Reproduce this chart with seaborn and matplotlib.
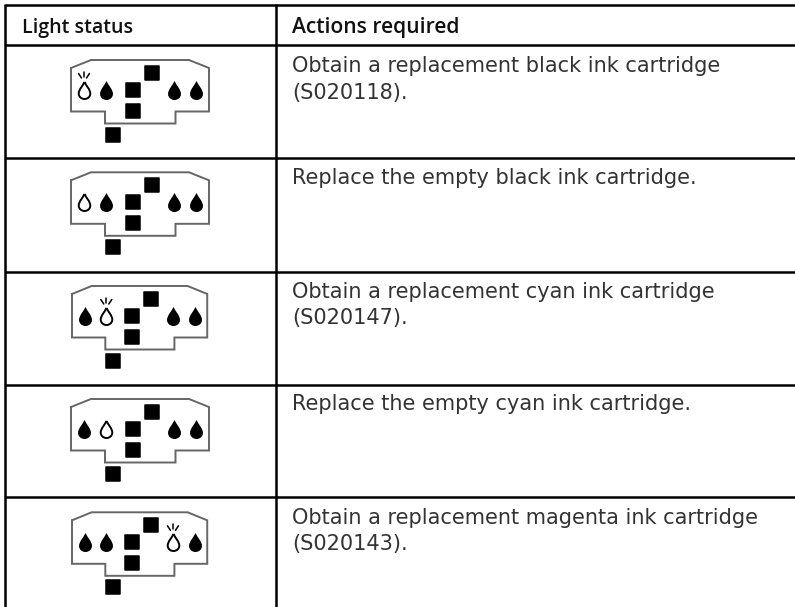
import matplotlib
matplotlib.use('Agg')
import matplotlib.pyplot as plt
from matplotlib.path import Path
import seaborn as sns
import pandas as pd

headers = ['Light status', 'Actions required']
actions = [
    ['Obtain a replacement black ink cartridge', '(S020118).'],
    ['Replace the empty black ink cartridge.'],
    ['Obtain a replacement cyan ink cartridge', '(S020147).'],
    ['Replace the empty cyan ink cartridge.'],
    ['Obtain a replacement magenta ink cartridge', '(S020143).'],
]
# state of the four ink lights in each row: on, off or blink
drop_states = [
    ['blink', 'on', 'on', 'on'],
    ['off', 'on', 'on', 'on'],
    ['on', 'blink', 'on', 'on'],
    ['on', 'off', 'on', 'on'],
    ['on', 'on', 'blink', 'on'],
]

# table rules and text lines, in image pixels
rule_ys = [5, 44.5, 157.5, 271.5, 384.5, 496.5]
first_baselines = [73, 185, 298.5, 411, 524.5]
# where each panel icon starts and how much it was squeezed in the scan
icon_x = [71, 71, 72, 71, 72]
icon_y = [60, 172.3, 286, 399, 512.3]
icon_sx = [1, 1, 0.98, 1, 0.98]

# icon shape relative to its top left corner
panel_x = [0, 20, 118, 138, 138, 104.5, 104.5, 34, 34, 0, 0]
panel_y = [8, 0, 0, 8, 51.5, 51.5, 63.5, 63.5, 51.5, 51.5, 8]
square_x = [81, 61.5, 61.5, 41.5]
square_y = [13, 29.5, 51, 75]
drop_x = [13, 35, 103, 125]
drop_y = 29.5


def drop_marker():
    verts = [(0, 1), (0.2, 0.55), (0.68, 0.12), (0.68, -0.37),
             (0.68, -0.74), (0.36, -1), (0, -1),
             (-0.36, -1), (-0.68, -0.74), (-0.68, -0.37),
             (-0.68, 0.12), (-0.2, 0.55), (0, 1)]
    codes = [Path.MOVETO] + [Path.CURVE4] * 12
    return Path(verts, codes)


def main():
    sns.set_theme(style='white')
    plt.rcParams['font.family'] = ['DejaVu Sans']

    fig = plt.figure(figsize=(7.95, 6.07), dpi=100)
    ax = fig.add_axes([0, 0, 1, 1])

    squares = []
    drops = []
    for r, states in enumerate(drop_states):
        x0, y0, sx = icon_x[r], icon_y[r], icon_sx[r]
        ax.plot([x0 + x * sx for x in panel_x], [y0 + y for y in panel_y],
                color='#666666', lw=1.4, solid_joinstyle='miter', zorder=1)
        for x, y in zip(square_x, square_y):
            squares.append({'x': x0 + x * sx, 'y': y0 + y})
        for x, state in zip(drop_x, states):
            drops.append({'x': x0 + x * sx, 'y': y0 + drop_y, 'state': state})
            if state == 'blink':
                cx, top = x0 + x * sx, y0 + drop_y - 9.5
                ax.plot([cx - 5.5, cx - 2.5], [top - 6.5, top - 2], color='black', lw=1.1)
                ax.plot([cx, cx], [top - 8, top - 3.5], color='black', lw=1.1)
                ax.plot([cx + 5.5, cx + 2.5], [top - 6.5, top - 2], color='black', lw=1.1)

    squares = pd.DataFrame(squares)
    drops = pd.DataFrame(drops)

    sns.scatterplot(data=squares, x='x', y='y', marker='s', s=95, color='black',
                    edgecolor='black', linewidth=1.1, joinstyle='round', ax=ax,
                    legend=False, zorder=2)
    full = drops[drops['state'] == 'on']
    empty = drops[drops['state'] != 'on']
    sns.scatterplot(data=full, x='x', y='y', marker=drop_marker(), s=187, color='black',
                    linewidth=0, ax=ax, legend=False, zorder=2)
    sns.scatterplot(data=empty, x='x', y='y', marker=drop_marker(), s=150, color='white',
                    edgecolor='black', linewidth=1.4, ax=ax, legend=False, zorder=2)

    for y in rule_ys:
        ax.plot([5, 795], [y, y], color='black', lw=1.8, solid_capstyle='butt', zorder=3)
    ax.plot([5, 5], [4, 607], color='black', lw=1.8, solid_capstyle='butt', zorder=3)
    ax.plot([276, 276], [4, 607], color='black', lw=1.8, solid_capstyle='butt', zorder=3)

    ax.text(22, 32.5, headers[0], fontsize=14.1, color='#111111', family='Open Sans',
            fontweight='semibold', va='baseline')
    ax.text(292, 32.5, headers[1], fontsize=15.1, color='#111111', family='Open Sans',
            fontweight='semibold', va='baseline')
    for lines, base in zip(actions, first_baselines):
        for i, line in enumerate(lines):
            ax.text(292, base + 26 * i - 0.5, line, fontsize=15, color='#333333', va='baseline')

    ax.set_xlim(0, 795)
    ax.set_ylim(607, 0)
    ax.set_axis_off()
    fig.savefig('out.png', dpi=100)


if __name__ == '__main__':
    main()
